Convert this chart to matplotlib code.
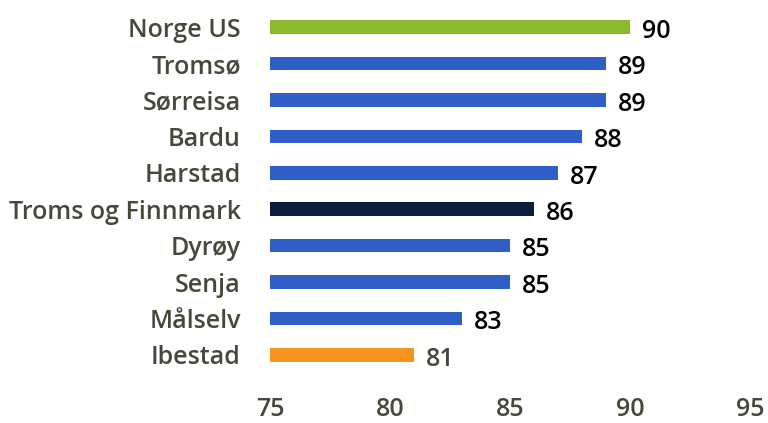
import matplotlib.pyplot as plt

plt.rcParams['font.family'] = ['Open Sans', 'DejaVu Sans']

# share of respondents, per municipality / region
places = ['Norge US', 'Tromsø', 'Sørreisa', 'Bardu', 'Harstad',
          'Troms og Finnmark', 'Dyrøy', 'Senja', 'Målselv', 'Ibestad']
scores = [90, 89, 89, 88, 87, 86, 85, 85, 83, 81]
bar_colors = ['#8cb82b', '#2f5ec6', '#2f5ec6', '#2f5ec6', '#2f5ec6',
              '#0c1d3d', '#2f5ec6', '#2f5ec6', '#2f5ec6', '#f7941e']
x_ticks = [75, 80, 85, 90, 95]

label_color = '#47473a'
fs = 18

fig = plt.figure(figsize=(7.68, 4.23), dpi=100)
ax = fig.add_axes([0.3516, 0.118, 0.625, 0.861])

y_pos = range(len(places))
ax.barh(y_pos, [s - 75 for s in scores], left=75, height=0.37,
        color=bar_colors)

for y, s in zip(y_pos, scores):
    col = label_color if s == 81 else 'black'
    ax.text(s + 0.5, y + 0.12, str(s), va='center', ha='left',
            fontsize=fs, fontweight='semibold', color=col)

ax.set_xlim(75, 95)
ax.set_ylim(len(places) - 0.5, -0.5)
ax.set_yticks(list(y_pos))
ax.set_yticklabels(places, fontsize=fs, fontweight='semibold',
                   color=label_color)
ax.set_xticks(x_ticks)
ax.set_xticklabels([str(t) for t in x_ticks], fontsize=fs,
                   fontweight='semibold', color=label_color)
ax.tick_params(axis='both', length=0)
ax.tick_params(axis='y', pad=21)
ax.tick_params(axis='x', pad=17)
for sp in ax.spines.values():
    sp.set_visible(False)

fig.savefig('out.png', dpi=100)
